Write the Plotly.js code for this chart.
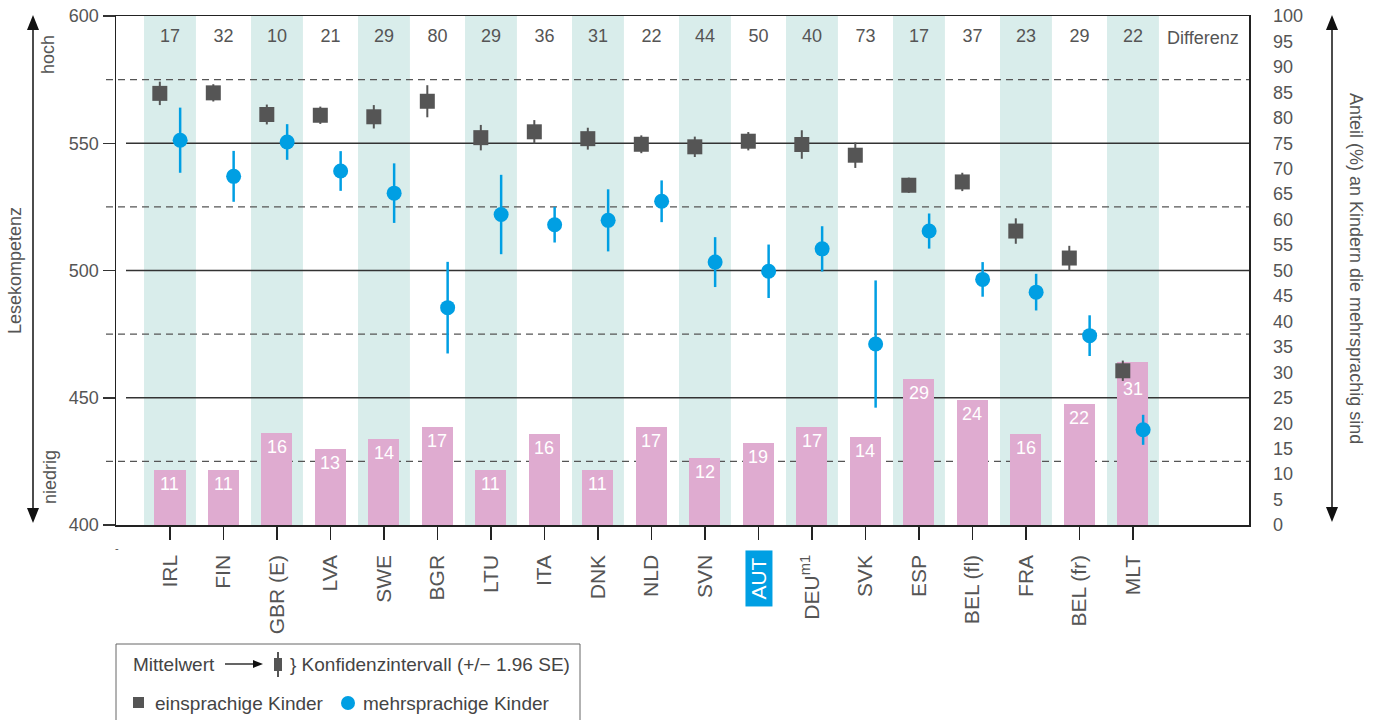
<!DOCTYPE html>
<html>
<head>
<meta charset="utf-8">
<script src="https://cdn.plot.ly/plotly-3.0.1.min.js"></script>
<style>html,body{margin:0;padding:0;background:#fff;}#chart{width:1383px;height:720px;}</style>
</head>
<body>
<div id="chart"></div>
<script>
// ---- data ----
const countries = ['IRL','FIN','GBR (E)','LVA','SWE','BGR','LTU','ITA','DNK','NLD','SVN','AUT','DEU<sup>m1</sup>','SVK','ESP','BEL (fl)','FRA','BEL (fr)','MLT'];
const einsprachigMean = [569.6, 569.8, 561.3, 561.0, 560.4, 566.5, 552.2, 554.5, 551.8, 549.6, 548.6, 550.8, 549.5, 545.3, 533.5, 534.8, 515.5, 504.9, 460.6];
const einsprachigCI   = [4.6, 3.4, 3.9, 3.4, 4.6, 6.3, 5.0, 4.6, 4.3, 3.5, 4.0, 3.6, 5.6, 5.0, 3.0, 3.6, 5.0, 4.8, 4.0];
const mehrsprachigMean = [551.2, 537.0, 550.5, 539.1, 530.4, 485.4, 522.0, 518.0, 519.7, 527.2, 503.3, 499.7, 508.5, 471.1, 515.5, 496.5, 491.5, 474.4, 437.4];
const mehrsprachigCI   = [12.8, 10.0, 7.0, 7.8, 11.7, 18.0, 15.6, 7.0, 12.2, 8.2, 9.8, 10.5, 8.9, 25.0, 6.9, 6.8, 7.2, 8.0, 5.9];
const differenz = [17, 32, 10, 21, 29, 80, 29, 36, 31, 22, 44, 50, 40, 73, 17, 37, 23, 29, 22];
// printed share labels (%)
const anteilLabel = [11, 11, 16, 13, 14, 17, 11, 16, 11, 17, 12, 19, 17, 14, 29, 24, 16, 22, 31];
// bar heights as drawn in the picture (right axis, %)
const anteilBar = [10.9, 10.9, 18.0, 15.0, 16.8, 19.2, 10.9, 17.8, 10.9, 19.2, 13.1, 16.2, 19.2, 17.2, 28.6, 24.5, 17.8, 23.7, 32.0];
const leftTicks = [400, 450, 500, 550, 600];
const solidLevels = [550, 500, 450];
const dashedLevels = [575, 525, 475, 425];
const highlight = 'AUT';

// ---- geometry helpers ----
const W = 1383, H = 720, ML = 116, MR = 134, MT = 16, MB = 195;
const PW = W - ML - MR, PH = H - MT - MB;
const px = x => (x - ML) / PW;
const py = y => (H - MB - y) / PH;
const LMIN = 400, LMAX = 600;
const lv = v => (v - LMIN) / (LMAX - LMIN);

const idx = countries.map((_, i) => i);
const OFF = 0.19;
const FONT = 'Liberation Sans, Arial, Helvetica, sans-serif';
const GREY = '#555555';
const BLUE = '#009fe3';

const traces = [
  {
    type: 'bar', x: idx, y: anteilBar, yaxis: 'y', xaxis: 'x',
    width: 0.58, marker: {color: '#dfabd0', line: {width: 0}}, hoverinfo: 'skip'
  },
  {
    type: 'scatter', mode: 'markers', x: idx.map(i => i - OFF), y: einsprachigMean, yaxis: 'y2',
    marker: {symbol: 'square', size: 15, color: GREY, line: {width: 0}},
    error_y: {type: 'data', array: einsprachigCI, visible: true, width: 0, thickness: 2, color: GREY},
    hoverinfo: 'skip'
  },
  {
    type: 'scatter', mode: 'markers', x: idx.map(i => i + OFF), y: mehrsprachigMean, yaxis: 'y2',
    marker: {symbol: 'circle', size: 15, color: BLUE, line: {width: 0}},
    error_y: {type: 'data', array: mehrsprachigCI, visible: true, width: 0, thickness: 2.5, color: BLUE},
    hoverinfo: 'skip'
  },
  {
    type: 'scatter', mode: 'text', x: idx, y: idx.map(() => 591.4), yaxis: 'y2',
    text: differenz.map(String), textposition: 'middle center',
    textfont: {family: FONT, size: 18, color: GREY}, hoverinfo: 'skip'
  }
];

const shapes = [];
// bands
idx.forEach(i => {
  if (i % 2 === 0) shapes.push({type: 'rect', layer: 'below', xref: 'x', yref: 'paper', x0: i - 0.485, x1: i + 0.485, y0: 0, y1: 1, fillcolor: '#d9edeb', line: {width: 0}});
});
// grid lines
solidLevels.forEach(v => shapes.push({type: 'line', layer: 'below', xref: 'paper', yref: 'paper', x0: px(126), x1: 1, y0: lv(v), y1: lv(v), line: {color: '#333333', width: 1.3}}));
dashedLevels.forEach(v => shapes.push({type: 'line', layer: 'below', xref: 'paper', yref: 'paper', x0: px(106), x1: 1, y0: lv(v), y1: lv(v), line: {color: GREY, width: 1.3, dash: '7px,5px'}}));

function pathP(pts) {
  return 'M' + pts.map(p => px(p[0]) + ',' + py(p[1])).join(' L') + ' Z';
}
function vArrow(x, yTop, yBot) {
  shapes.push({type: 'line', xref: 'paper', yref: 'paper', x0: px(x), x1: px(x), y0: py(yTop + 12), y1: py(yBot - 12), line: {color: '#111', width: 1.5}});
  shapes.push({type: 'path', xref: 'paper', yref: 'paper', path: pathP([[x - 6, yTop + 15], [x, yTop], [x + 6, yTop + 15]]), fillcolor: '#111', line: {width: 0}});
  shapes.push({type: 'path', xref: 'paper', yref: 'paper', path: pathP([[x - 6, yBot - 15], [x, yBot], [x + 6, yBot - 15]]), fillcolor: '#111', line: {width: 0}});
}
vArrow(33, 15, 523);
vArrow(1332, 15, 522);

// legend box
shapes.push({type: 'rect', xref: 'paper', yref: 'paper', x0: px(116), x1: px(580), y0: py(644), y1: py(724), line: {color: '#666', width: 1}, fillcolor: 'rgba(0,0,0,0)'});
// Mittelwert arrow
shapes.push({type: 'line', xref: 'paper', yref: 'paper', x0: px(225), x1: px(256), y0: py(664), y1: py(664), line: {color: '#111', width: 1.3}});
shapes.push({type: 'path', xref: 'paper', yref: 'paper', path: pathP([[253, 660], [263, 664], [253, 668]]), fillcolor: '#111', line: {width: 0}});
// CI icon
shapes.push({type: 'line', xref: 'paper', yref: 'paper', x0: px(278), x1: px(278), y0: py(652), y1: py(677), line: {color: GREY, width: 2}});
shapes.push({type: 'rect', xref: 'paper', yref: 'paper', x0: px(274), x1: px(282), y0: py(658), y1: py(671), fillcolor: GREY, line: {width: 0}});
// legend markers
shapes.push({type: 'rect', xref: 'paper', yref: 'paper', x0: px(133), x1: px(144), y0: py(697), y1: py(708), fillcolor: GREY, line: {width: 0}});
shapes.push({type: 'circle', xref: 'paper', yref: 'paper', x0: px(341), x1: px(355), y0: py(696), y1: py(710), fillcolor: BLUE, line: {width: 0}});

const ann = (text, x, y, opts) => Object.assign({text: text, x: px(x), y: py(y), xref: 'paper', yref: 'paper', showarrow: false, xanchor: 'left', yanchor: 'middle', font: {family: FONT, size: 19, color: '#444'}}, opts || {});

const annotations = [
  ann('hoch', 48, 55, {xanchor: 'center', textangle: -90, font: {family: FONT, size: 18, color: GREY}}),
  ann('niedrig', 50, 477, {xanchor: 'center', textangle: -90, font: {family: FONT, size: 18, color: GREY}}),
  ann('Lesekompetenz', 15, 271, {xanchor: 'center', textangle: -90, font: {family: FONT, size: 18, color: GREY}}),
  ann('Anteil (%) an Kindern die mehrsprachig sind', 1356, 268, {xanchor: 'center', textangle: 90, font: {family: FONT, size: 18, color: GREY}}),
  ann('-', 117, 548, {xanchor: 'center', font: {family: FONT, size: 11, color: GREY}}),
  ann('Mittelwert', 131, 664),
  ann('} Konfidenzintervall (+/\u2212 1.96 SE)', 288, 664),
  ann('einsprachige Kinder', 153, 703),
  ann('mehrsprachige Kinder', 361, 703),
  {text: 'Differenz', x: 19.31, y: 591.4, xref: 'x', yref: 'y2', showarrow: false, xanchor: 'center', yanchor: 'middle', font: {family: FONT, size: 18, color: GREY}},
  {text: highlight, x: countries.indexOf(highlight), y: py(578.5), xref: 'x', yref: 'paper', showarrow: false, textangle: -90, xanchor: 'center', yanchor: 'middle', bgcolor: BLUE, width: 55, height: 26, borderpad: 0, font: {family: FONT, size: 21, color: '#ffffff'}}
];

// bar value labels (white, inside top of each bar; pushed lower when the square marker overlaps)
idx.forEach(i => {
  const sqPct = (einsprachigMean[i] - LMIN) / (LMAX - LMIN) * 100;
  const overlap = sqPct < anteilBar[i] + 3;
  annotations.push({text: String(anteilLabel[i]), x: i, y: anteilBar[i], xref: 'x', yref: 'y', showarrow: false,
    xanchor: 'center', yanchor: 'middle', yshift: overlap ? -27 : -14,
    font: {family: FONT, size: 18, color: '#ffffff'}});
});

const layout = {
  width: W, height: H,
  margin: {l: ML, r: MR, t: MT, b: MB, pad: 0},
  paper_bgcolor: '#ffffff', plot_bgcolor: 'rgba(0,0,0,0)',
  showlegend: false, bargap: 0,
  font: {family: FONT, size: 18, color: GREY},
  xaxis: {
    range: [-1.009, 20.169], tickmode: 'array', tickvals: idx,
    ticktext: countries.map(c => c === highlight ? '' : c),
    tickangle: -90, tickfont: {family: FONT, size: 21, color: GREY},
    ticks: 'outside', ticklen: 13, tickwidth: 1.5, tickcolor: '#222', ticklabelstandoff: 7,
    showline: true, mirror: true, linecolor: '#222', linewidth: 1.5,
    showgrid: false, zeroline: false, fixedrange: true
  },
  yaxis: {
    range: [0, 100], side: 'right', tickmode: 'array', tickvals: Array.from({length: 21}, (_, k) => k * 5),
    tickfont: {family: FONT, size: 18, color: GREY},
    ticks: 'outside', ticklen: 19, tickcolor: 'rgba(0,0,0,0)',
    showline: true, linecolor: '#222', linewidth: 1.5,
    showgrid: false, zeroline: false, fixedrange: true
  },
  yaxis2: {
    range: [LMIN, LMAX], side: 'left', overlaying: 'y', tickmode: 'array', tickvals: leftTicks,
    tickfont: {family: FONT, size: 18, color: GREY},
    ticks: 'outside', ticklen: 12, tickwidth: 1.5, tickcolor: '#333',
    showline: true, linecolor: '#222', linewidth: 1.5,
    showgrid: false, zeroline: false, fixedrange: true
  },
  shapes: shapes,
  annotations: annotations
};

Plotly.newPlot('chart', traces, layout, {displayModeBar: false, staticPlot: true});
</script>
</body>
</html>
